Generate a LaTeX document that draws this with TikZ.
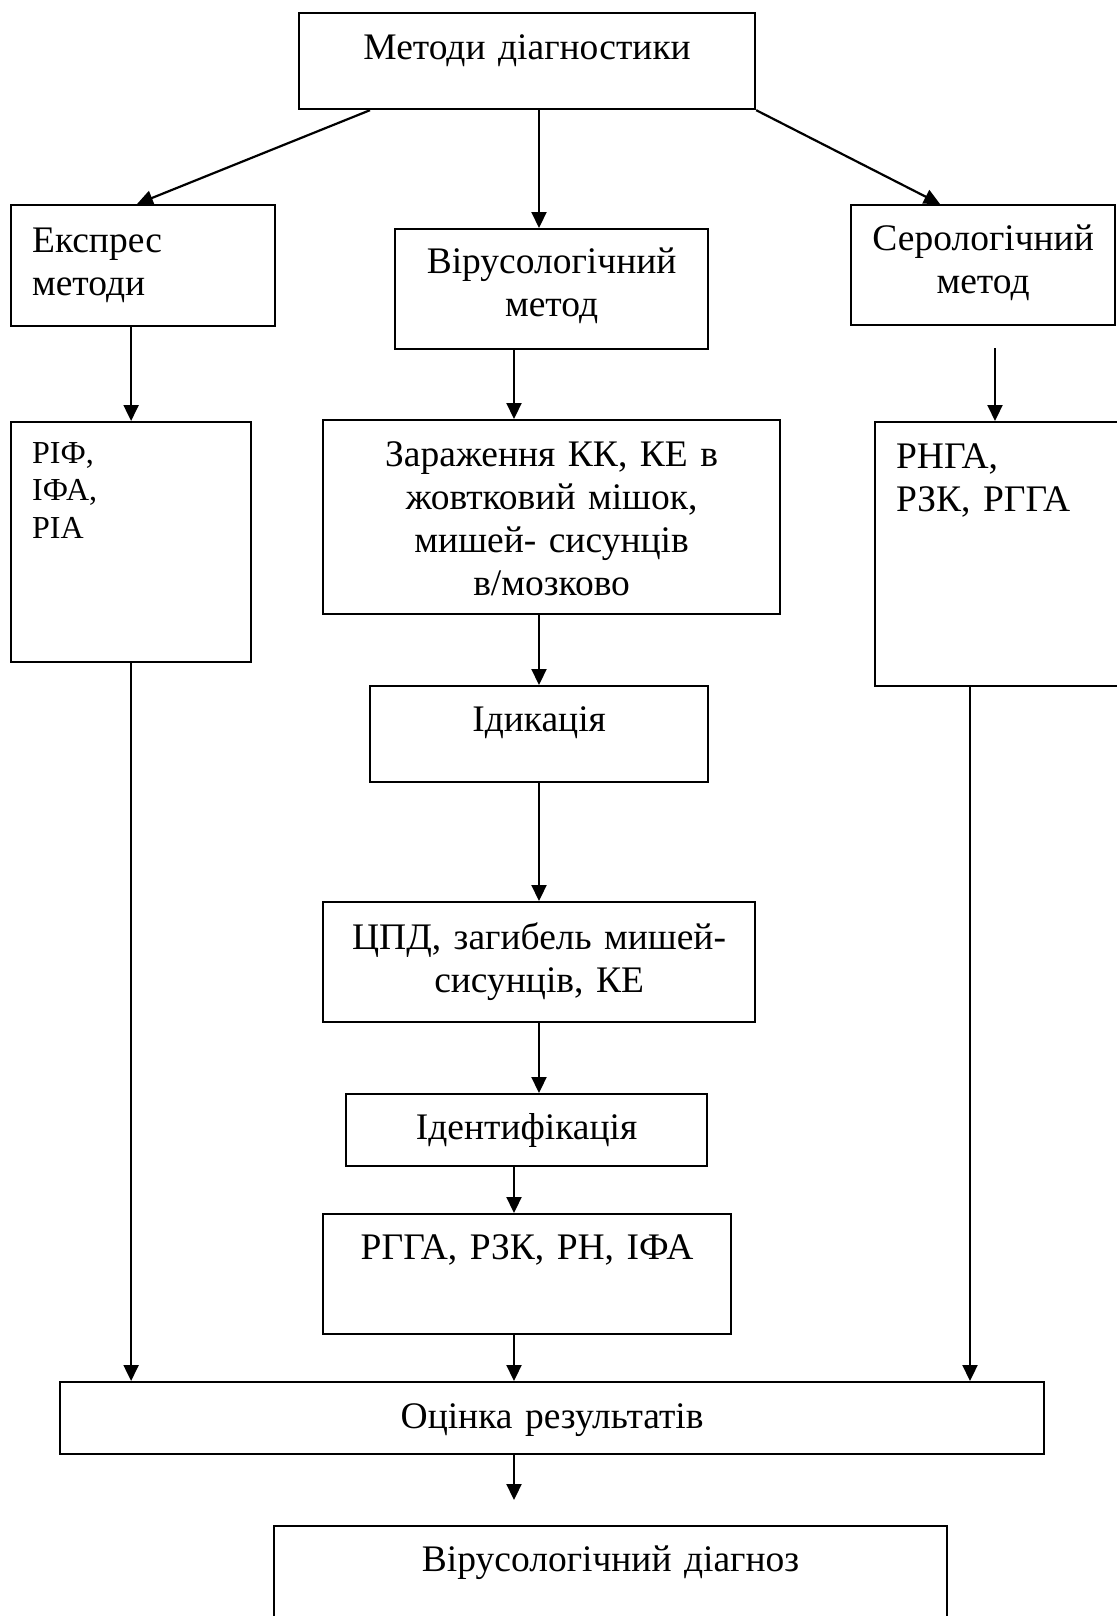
\documentclass[tikz,border=0pt]{standalone}
\usepackage{fontspec}
\setmainfont{Liberation Serif}
\usetikzlibrary{arrows.meta}

\begin{document}
\begin{tikzpicture}[x     = 1pt,
                    y     = -1pt,
                    line width = 2.2pt,
                    font  = {\fontsize{37.5}{43}\selectfont}]
% style of boxes and arrows
\tikzset{block/.style={draw,anchor=north west,inner xsep=21pt,inner ysep=0pt,align=center},
         smalltext/.style={font={\fontsize{32}{37.5}\selectfont}},
         arr/.style={-{Triangle[length=16pt,width=15pt]}}}
\useasboundingbox (0,0) rectangle (1116,1616);
% columns of the arrows
\coordinate (xa) at (514,0);
\coordinate (xb) at (539,0);
% box "top"
\node[block,text width=414pt,text height=46pt,text depth=50pt] (meth) at (298,12)
  {Методи діагностики};
% boxes of the three methods
\node[block,align=left,text width=222pt,text height=47pt,text depth=74pt] (expr) at (10,204)
  {Експрес\\методи};
\node[block,text width=271pt,text height=44pt,text depth=76pt] (viro) at (394,228)
  {Вірусологічний\\метод};
\node[block,text width=222pt,text height=45pt,text depth=75pt] (sero) at (850,204)
  {Серологічний\\метод};
% boxes "express" and "serology"
\node[block,smalltext,align=left,text width=198pt,text height=41pt,text depth=199pt] (rif) at (10,421)
  {РІФ,\\ІФА,\\РІА};
\node[block,align=left,text width=218pt,text height=46pt,text depth=218pt] (rnga) at (874,421)
  {РНГА,\\РЗК, РГГА};
% boxes "virology"
\node[block,text width=415pt,text height=46pt,text depth=148pt] (infect) at (322,419)
  {Зараження КК, КЕ в\\жовтковий мішок,\\мишей- сисунців\\в/мозково};
\node[block,text width=296pt,text height=45pt,text depth=51pt] (indic) at (369,685)
  {Ідикація};
\node[block,text width=390pt,text height=47pt,text depth=73pt] (cpe) at (322,901)
  {ЦПД, загибель мишей-\\сисунців, КЕ};
\node[block,text width=319pt,text height=45pt,text depth=27pt] (ident) at (345,1093)
  {Ідентифікація};
\node[block,text width=366pt,text height=45pt,text depth=75pt] (react) at (322,1213)
  {РГГА, РЗК, РН, ІФА};
% boxes "result"
\node[block,text width=942pt,text height=46pt,text depth=26pt] (eval) at (59,1381)
  {Оцінка результатів};
\node[block,text width=631pt,text height=45pt,text depth=75pt] (diag) at (273,1525)
  {Вірусологічний діагноз};
% free ends
\coordinate (seroout) at (995,348);
\coordinate (evalout) at (514,1500);
% arrows
\draw[arr] (meth.south west -| 370,0) -- (expr.north -| 137,0);
\draw[arr] (meth.south -| xb) -- (viro.north -| xb);
\draw[arr] (meth.south east) -- (sero.north -| 940,0);
\draw[arr] (expr.south -| rif.north) -- (rif.north);
\draw[arr] (viro.south -| xa) -- (infect.north -| xa);
\draw[arr] (seroout) -- (rnga.north -| seroout);
\draw[arr] (infect.south -| xb) -- (indic.north -| xb);
\draw[arr] (indic.south -| xb) -- (cpe.north -| xb);
\draw[arr] (cpe.south -| xb) -- (ident.north -| xb);
\draw[arr] (ident.south -| xa) -- (react.north -| xa);
\draw[arr] (react.south -| xa) -- (eval.north -| xa);
\draw[arr] (rif.south) -- (eval.north -| rif.south);
\draw[arr] (rnga.south -| 970,0) -- (eval.north -| 970,0);
\draw[arr] (eval.south -| xa) -- (evalout);
\end{tikzpicture}
\end{document}
